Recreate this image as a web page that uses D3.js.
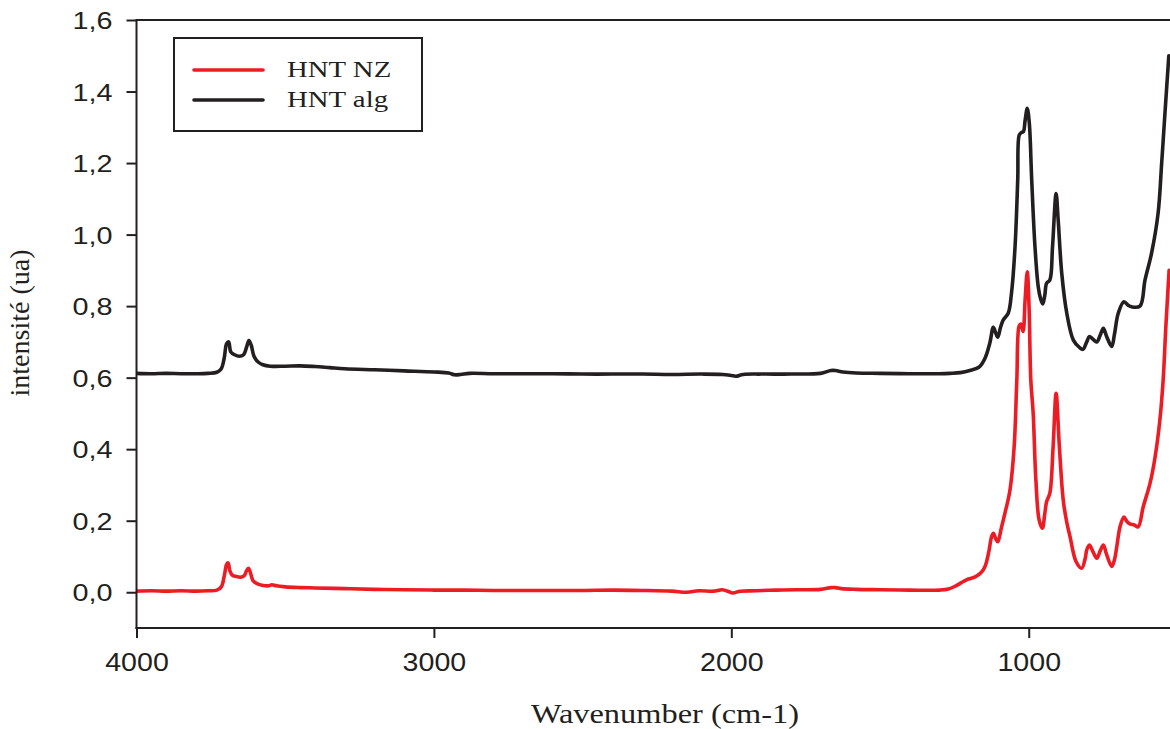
<!DOCTYPE html>
<html>
<head>
<meta charset="utf-8">
<script src="https://cdn.jsdelivr.net/npm/d3@7"></script>
<style>
  html, body { margin: 0; padding: 0; background: #fff; overflow: hidden; }
  svg { display: block; }
</style>
</head>
<body>
<svg id="chart" width="1170" height="729"></svg>
<script>
// FTIR spectra of two halloysite samples (intensity vs wavenumber)
const seriesNames = ["HNT NZ", "HNT alg"];
const seriesColors = ["#ed1c24", "#231f20"];

const xTicks = [4000, 3000, 2000, 1000];
const yTicks = [0.0, 0.2, 0.4, 0.6, 0.8, 1.0, 1.2, 1.4, 1.6];

// HNT NZ
const nzWavenumber = [4000, 3950, 3900, 3850, 3800, 3760, 3730, 3715, 3705, 3697, 3692, 3686, 3678, 3665, 3650, 3638, 3630, 3624, 3617, 3608, 3595, 3575, 3555, 3545, 3530, 3500, 3450, 3400, 3300, 3200, 3100, 3000, 2900, 2800, 2700, 2600, 2500, 2400, 2300, 2200, 2150, 2110, 2060, 2030, 2010, 1995, 1970, 1920, 1850, 1780, 1700, 1665, 1650, 1630, 1580, 1500, 1400, 1300, 1270, 1245, 1220, 1203, 1180, 1160, 1147, 1135, 1125, 1119, 1111, 1104, 1092, 1080, 1063, 1049, 1040, 1032, 1026, 1019, 1012, 1005, 999, 993, 985, 976, 965, 954, 946, 940, 929, 918, 908, 897, 884, 872, 861, 841, 822, 810, 805, 796, 785, 771, 760, 749, 738, 721, 712, 704, 693, 680, 670, 660, 645, 632, 615, 592, 575, 559, 548, 539, 528];
const nzIntensity = [0.003, 0.004, 0.003, 0.004, 0.003, 0.004, 0.006, 0.015, 0.045, 0.078, 0.082, 0.060, 0.048, 0.044, 0.042, 0.046, 0.060, 0.067, 0.055, 0.032, 0.024, 0.019, 0.018, 0.021, 0.018, 0.015, 0.013, 0.012, 0.010, 0.008, 0.007, 0.006, 0.006, 0.005, 0.005, 0.005, 0.005, 0.006, 0.005, 0.003, 0.000, 0.004, 0.003, 0.007, 0.002, -0.002, 0.003, 0.004, 0.006, 0.007, 0.008, 0.013, 0.013, 0.010, 0.008, 0.007, 0.006, 0.006, 0.009, 0.018, 0.030, 0.037, 0.043, 0.055, 0.072, 0.110, 0.155, 0.165, 0.150, 0.141, 0.180, 0.221, 0.286, 0.407, 0.594, 0.745, 0.750, 0.729, 0.820, 0.896, 0.800, 0.594, 0.500, 0.314, 0.202, 0.179, 0.220, 0.253, 0.277, 0.407, 0.556, 0.407, 0.258, 0.195, 0.155, 0.086, 0.067, 0.095, 0.118, 0.132, 0.115, 0.095, 0.115, 0.132, 0.105, 0.072, 0.090, 0.127, 0.183, 0.210, 0.198, 0.191, 0.188, 0.183, 0.239, 0.305, 0.379, 0.482, 0.594, 0.742, 0.900];

// HNT alg
const algWavenumber = [4000, 3950, 3900, 3850, 3800, 3760, 3730, 3715, 3705, 3697, 3690, 3683, 3670, 3655, 3640, 3630, 3622, 3614, 3605, 3590, 3575, 3550, 3500, 3450, 3400, 3350, 3300, 3200, 3100, 3000, 2950, 2930, 2910, 2880, 2800, 2700, 2600, 2500, 2400, 2300, 2200, 2100, 2030, 2000, 1985, 1960, 1900, 1800, 1700, 1665, 1650, 1625, 1580, 1500, 1400, 1300, 1265, 1230, 1198, 1165, 1147, 1131, 1119, 1111, 1104, 1095, 1086, 1069, 1058, 1046, 1037, 1032, 1025, 1018, 1012, 1005, 998, 990, 979, 968, 960, 953, 946, 940, 929, 920, 908, 901, 889, 872, 850, 830, 818, 805, 796, 785, 771, 760, 749, 738, 721, 712, 699, 680, 665, 654, 626, 609, 587, 565, 553, 542, 529];
const algIntensity = [0.612, 0.611, 0.612, 0.611, 0.611, 0.612, 0.615, 0.625, 0.655, 0.695, 0.700, 0.672, 0.664, 0.660, 0.664, 0.685, 0.704, 0.690, 0.660, 0.643, 0.636, 0.632, 0.632, 0.633, 0.631, 0.628, 0.625, 0.622, 0.619, 0.616, 0.613, 0.608, 0.609, 0.612, 0.611, 0.611, 0.611, 0.610, 0.610, 0.610, 0.609, 0.610, 0.609, 0.606, 0.604, 0.609, 0.610, 0.610, 0.612, 0.620, 0.620, 0.616, 0.613, 0.612, 0.611, 0.611, 0.612, 0.614, 0.620, 0.631, 0.654, 0.696, 0.741, 0.725, 0.713, 0.740, 0.761, 0.780, 0.836, 0.966, 1.153, 1.278, 1.285, 1.288, 1.320, 1.353, 1.311, 1.153, 0.966, 0.854, 0.820, 0.806, 0.830, 0.864, 0.873, 0.966, 1.115, 1.041, 0.892, 0.780, 0.705, 0.685, 0.679, 0.700, 0.715, 0.708, 0.700, 0.718, 0.738, 0.715, 0.687, 0.720, 0.780, 0.812, 0.802, 0.798, 0.800, 0.873, 0.948, 1.060, 1.200, 1.339, 1.500];

const svg = d3.select("#chart");
const W = 1170, H = 729;
const plot = { left: 136.5, right: 1170, top: 20, bottom: 628 };
const ink = "#231f20";

const x = d3.scaleLinear().domain([4000, 525]).range([plot.left, plot.right]);
const y = d3.scaleLinear().domain([-0.1, 1.6]).range([plot.bottom, plot.top]);

// stretch a text element horizontally by a factor
function widen(sel, k) {
  sel.each(function () {
    const len = this.getComputedTextLength();
    d3.select(this).attr("textLength", len * k).attr("lengthAdjust", "spacingAndGlyphs");
  });
}

const series = [
  { name: seriesNames[0], color: seriesColors[0], pts: nzWavenumber.map((w, i) => [w, nzIntensity[i]]) },
  { name: seriesNames[1], color: seriesColors[1], pts: algWavenumber.map((w, i) => [w, algIntensity[i]]) }
];

svg.append("clipPath").attr("id", "plotClip")
  .append("rect").attr("x", plot.left).attr("y", plot.top - 5)
  .attr("width", plot.right - plot.left + 5).attr("height", plot.bottom - plot.top + 5);

const line = d3.line()
  .x(d => x(d[0]))
  .y(d => y(d[1]))
  .curve(d3.curveCatmullRom.alpha(0.5));

const lines = svg.append("g").attr("clip-path", "url(#plotClip)");
lines.selectAll("path")
  .data(series.slice().reverse())
  .join("path")
  .attr("d", d => line(d.pts))
  .attr("fill", "none")
  .attr("stroke", d => d.color)
  .attr("stroke-width", 3.6)
  .attr("stroke-linejoin", "round")
  .attr("stroke-linecap", "round");

// axes
const yAxis = svg.append("g")
  .attr("transform", `translate(${plot.left},0)`)
  .call(d3.axisLeft(y).tickValues(yTicks).tickSize(10).tickPadding(14)
    .tickFormat(d => d3.format(".1f")(d).replace(".", ",")));
yAxis.select(".domain").remove();
yAxis.selectAll(".tick line").attr("stroke", ink).attr("stroke-width", 2);
yAxis.selectAll(".tick text")
  .attr("fill", ink)
  .style("font-family", "'Liberation Sans', Arial, sans-serif")
  .style("font-size", "24px")
  .attr("dy", "0.36em")
  .call(widen, 1.2);

const xAxis = svg.append("g")
  .attr("transform", `translate(0,${plot.bottom})`)
  .call(d3.axisBottom(x).tickValues(xTicks).tickSize(10).tickFormat(d3.format("d")).tickPadding(15));
xAxis.select(".domain").remove();
xAxis.selectAll(".tick line").attr("stroke", ink).attr("stroke-width", 2);
xAxis.selectAll(".tick text")
  .attr("fill", ink)
  .style("font-family", "'Liberation Sans', Arial, sans-serif")
  .style("font-size", "26px")
  .call(widen, 1.1);

// frame: left, bottom and top edges
const frame = svg.append("g").attr("stroke", ink).attr("stroke-width", 2).attr("fill", "none");
frame.append("line").attr("x1", plot.left).attr("x2", plot.left).attr("y1", plot.top).attr("y2", plot.bottom + 1);
frame.append("line").attr("x1", plot.left - 1).attr("x2", W).attr("y1", plot.bottom).attr("y2", plot.bottom);
frame.append("line").attr("x1", plot.left - 1).attr("x2", W).attr("y1", plot.top).attr("y2", plot.top);

// axis titles
svg.append("text")
  .attr("x", 665).attr("y", 723)
  .attr("text-anchor", "middle")
  .attr("fill", ink)
  .style("font-family", "'Liberation Serif', 'Times New Roman', serif")
  .style("font-size", "27px")
  .text("Wavenumber (cm-1)")
  .call(widen, 1.2);

svg.append("text")
  .attr("transform", "translate(29,323) rotate(-90)")
  .attr("text-anchor", "middle")
  .attr("fill", ink)
  .style("font-family", "'Liberation Serif', 'Times New Roman', serif")
  .style("font-size", "28px")
  .text("intensité (ua)");

// legend
const legend = svg.append("g");
legend.append("rect")
  .attr("x", 174).attr("y", 38).attr("width", 248).attr("height", 93)
  .attr("fill", "#fff").attr("stroke", ink).attr("stroke-width", 2);
const items = legend.selectAll("g.item").data(series).join("g").attr("class", "item")
  .attr("transform", (d, i) => `translate(0,${70 + i * 30})`);
items.append("line")
  .attr("x1", 194).attr("x2", 263).attr("y1", 0).attr("y2", 0)
  .attr("stroke", d => d.color).attr("stroke-width", 3.6).attr("stroke-linecap", "round");
items.append("text")
  .attr("x", 287).attr("y", 7)
  .attr("fill", ink)
  .style("font-family", "'Liberation Serif', 'Times New Roman', serif")
  .style("font-size", "24px")
  .text(d => d.name)
  .call(widen, 1.2);
</script>
</body>
</html>
